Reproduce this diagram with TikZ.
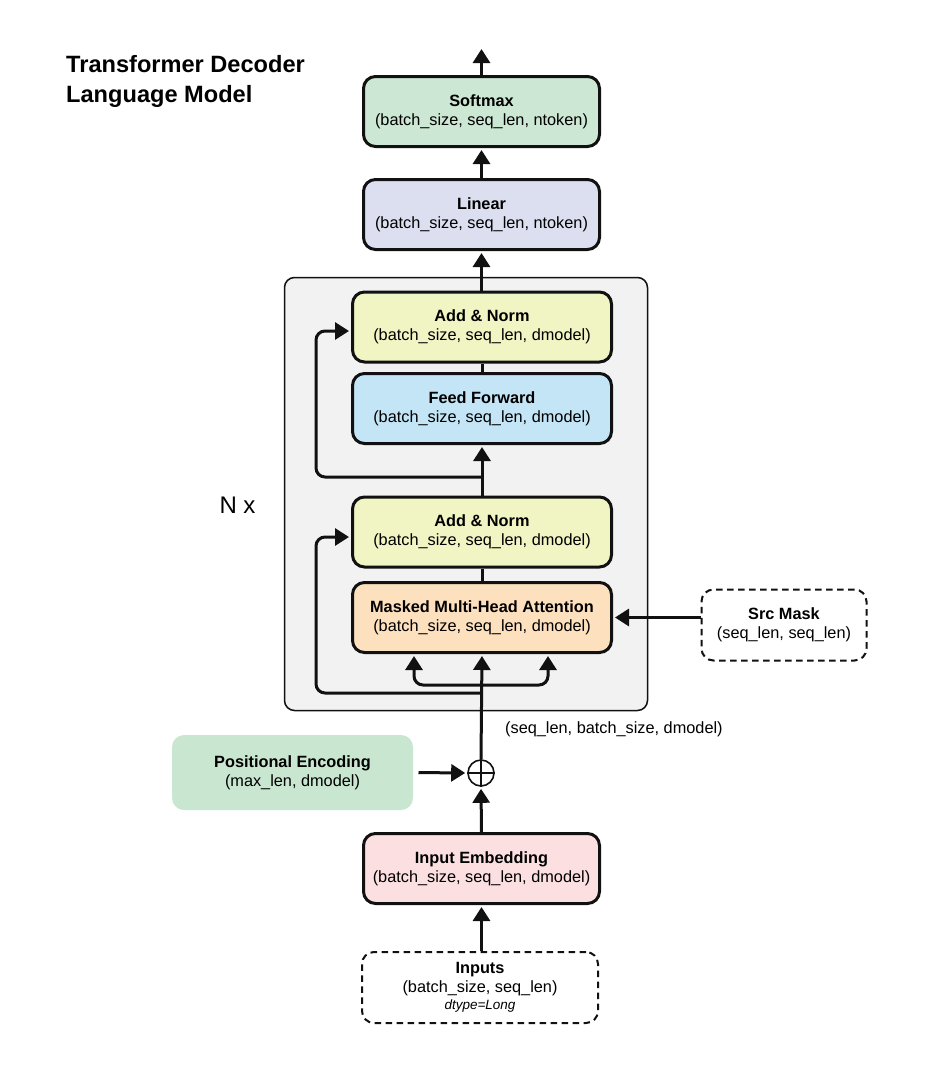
\documentclass[tikz,border=0pt]{standalone}
\usepackage{fontspec}
\setmainfont{Liberation Sans}
\usetikzlibrary{arrows.meta}

\definecolor{softmaxfill}{HTML}{CCE7D3}
\definecolor{linearfill}{HTML}{DCDFF0}
\definecolor{normfill}{HTML}{F1F4C3}
\definecolor{ffwdfill}{HTML}{C3E5F5}
\definecolor{attnfill}{HTML}{FDE0BD}
\definecolor{embfill}{HTML}{FBDFE1}
\definecolor{posfill}{HTML}{C9E6D0}
\definecolor{layerfill}{HTML}{F2F2F2}
\definecolor{ink}{HTML}{111111}

\tikzset{
  blk/.style={draw=ink, line width=3pt, rounded corners=12pt, align=center,
    font=\fontsize{16.3}{19}\selectfont, inner sep=0pt},
  wide/.style={minimum width=236pt, minimum height=70pt},
  wider/.style={minimum width=259pt, minimum height=70pt},
  ghost/.style={blk, dashed, dash pattern=on 6.5pt off 4.5pt, line width=2pt, fill=white},
  arr/.style={line width=3pt, draw=ink, -{Triangle[width=17pt,length=14pt]}, shorten >=2pt},
  wire/.style={line width=3pt, draw=ink, rounded corners=9pt},
}

\begin{document}
\begin{tikzpicture}[x=1pt, y=-1pt]
\useasboundingbox (0,0) rectangle (929,1080);

% heading
\node[anchor=north west, align=left, inner sep=0pt,
      font=\bfseries\fontsize{23.6}{30}\selectfont] (title) at (66,55)
  {Transformer Decoder\\Language Model};

% repeated decoder layer frame
\node[draw=ink, line width=1.5pt, fill=layerfill, rounded corners=10pt,
      minimum width=363pt, minimum height=433pt, inner sep=0pt] (layer) at (466,494) {};
\node[font=\fontsize{24}{28}\selectfont, inner sep=0pt] (nx) at (237.5,505) {N x};

% blocks
\node[blk, wide, fill=softmaxfill] (softmax) at (481.5,111.5)
  {\textbf{Softmax}\\(batch\_size, seq\_len, ntoken)};
\node[blk, wide, fill=linearfill] (linear) at (481.5,214.5)
  {\textbf{Linear}\\(batch\_size, seq\_len, ntoken)};
\node[blk, wider, fill=normfill] (norm1) at (482,327)
  {\textbf{Add \& Norm}\\(batch\_size, seq\_len, dmodel)};
\node[blk, wider, fill=ffwdfill] (ffwd) at (482,408.5)
  {\textbf{Feed Forward}\\(batch\_size, seq\_len, dmodel)};
\node[blk, wider, fill=normfill] (norm2) at (482,532)
  {\textbf{Add \& Norm}\\(batch\_size, seq\_len, dmodel)};
\node[blk, wider, fill=attnfill] (attn) at (482,617.5)
  {\textbf{Masked Multi-Head Attention}\\(batch\_size, seq\_len, dmodel)};
\node[ghost, minimum width=165pt, minimum height=71pt] (mask) at (784,625)
  {\textbf{Src Mask}\\(seq\_len, seq\_len)};
\node[blk, draw=none, fill=posfill, minimum width=241pt, minimum height=75pt] (pos) at (292.5,772.5)
  {\textbf{Positional Encoding}\\(max\_len, dmodel)};
\node[blk, wide, fill=embfill] (emb) at (481.5,868.5)
  {\textbf{Input Embedding}\\(batch\_size, seq\_len, dmodel)};
\node[ghost, wide, minimum height=71pt] (inputs) at (480,987.5)
  {\textbf{Inputs}\\(batch\_size, seq\_len)\\[-2pt]{\fontsize{13.5}{15}\selectfont\itshape dtype=Long}};

% positional sum
\node[draw=ink, line width=1.6pt, circle, minimum size=26pt, inner sep=0pt] (plus) at (481,773) {};
\draw[line width=1.6pt, draw=ink] (plus.north) -- (plus.south) (plus.west) -- (plus.east);

\node[anchor=west, inner sep=0pt, font=\fontsize{16.3}{19}\selectfont] (shape) at (505,729)
  {(seq\_len, batch\_size, dmodel)};

% main flow
\coordinate (out) at (481.5,47);
\draw[arr] (softmax.north) -- (out);
\draw[arr] (linear.north) -- (softmax.south);
\draw[arr] (norm1.north -| linear.south) -- (linear.south);
\draw[line width=3pt, draw=ink] (ffwd.north) -- (norm1.south);
\draw[arr] (norm2.north) -- (ffwd.south);
\draw[line width=3pt, draw=ink] (attn.north) -- (norm2.south);
\draw[arr] (plus.north) -- (attn.south);
\draw[arr] (emb.north) -- (plus.south);
\draw[arr] (emb.south |- inputs.north) -- (emb.south);
\draw[arr, shorten <=4pt] (pos.east) -- (plus.west);
\draw[arr] (mask.west |- attn.east) -- (attn.east);

% residual connections
\coordinate (res1) at (481,477);
\coordinate (res2) at (481,693);
\draw[wire, arr] (res1) -- (316,477) -- (316,331) -- ([yshift=-4pt]norm1.west);
\draw[wire, arr] (res2) -- (316,693) -- (316,537) -- ([yshift=-5pt]norm2.west);

% query / key / value split
\coordinate (qkv) at (481,685);
\coordinate (qin) at (414,654);
\coordinate (vin) at (548,654);
\draw[wire, arr] (qkv) -- (414,685) -- (qin);
\draw[wire, arr] (qkv) -- (548,685) -- (vin);
\end{tikzpicture}
\end{document}
